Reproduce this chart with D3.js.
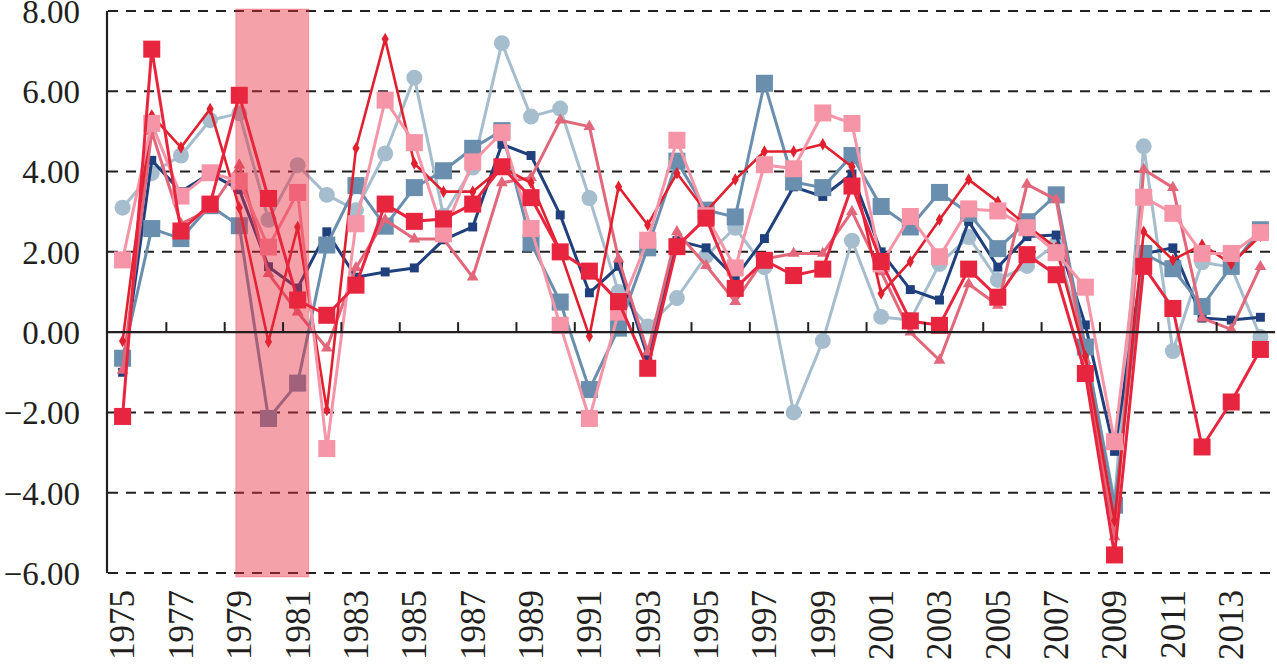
<!DOCTYPE html>
<html>
<head>
<meta charset="utf-8">
<script src="https://cdn.jsdelivr.net/npm/d3@7/dist/d3.min.js"></script>
<style>
  body { margin: 0; background: #fff; }
</style>
</head>
<body>
<svg id="chart" width="1277" height="672"></svg>
<script>
// years on the x axis
let years = d3.range(1975, 2015);
let yTicks = [8, 6, 4, 2, 0, -2, -4, -6];
let recession = [1979, 1981];

let navySmall = [-1.0, 4.28, 3.5, 3.95, 3.55, 1.63, 1.1, 2.5, 1.37, 1.5, 1.6, 2.3, 2.62, 4.68, 4.4, 2.92, 0.98, 1.64, -0.62, 2.28,
                 2.1, 1.35, 2.33, 3.62, 3.38, 3.94, 2.0, 1.06, 0.8, 2.76, 1.62, 2.38, 2.42, 0.18, -2.97, 1.95, 2.1, 0.35, 0.3, 0.37];
let steelSquare = [-0.65, 2.58, 2.33, 3.15, 2.65, -2.15, -1.27, 2.17, 3.65, 2.64, 3.6, 4.02, 4.58, 5.02, 2.22, 0.75, -1.43, 0.1, 2.1, 4.26,
                   3.04, 2.87, 6.2, 3.74, 3.6, 4.4, 3.13, 2.62, 3.48, 2.96, 2.08, 2.75, 3.42, -0.37, -4.31, 1.96, 1.58, 0.64, 1.64, 2.55];
let paleCircle = [3.1, 3.96, 4.4, 5.28, 5.45, 2.8, 4.16, 3.42, 3.04, 4.45, 6.34, 2.9, 4.1, 7.2, 5.37, 5.57, 3.34, 1.0, 0.14, 0.85,
                  1.9, 2.6, 1.62, -2.0, -0.22, 2.28, 0.38, 0.3, 1.7, 2.37, 1.3, 1.65, 2.2, -0.4, -4.2, 4.63, -0.47, 1.74, 1.62, -0.12];
let redDiamond = [-0.22, 5.4, 4.6, 5.56, 3.1, -0.24, 2.62, -1.94, 4.58, 7.3, 4.2, 3.5, 3.5, 4.1, 3.72, 2.0, -0.1, 3.62, 2.67, 3.96,
                  3.0, 3.8, 4.5, 4.5, 4.68, 4.12, 0.96, 1.76, 2.8, 3.8, 3.25, 2.65, 2.1, -0.6, -4.7, 2.5, 1.8, 2.18, 1.7, 2.4];
let roseTriangle = [-0.95, 5.0, 2.7, 3.05, 4.16, 1.46, 0.5, -0.4, 1.6, 2.8, 2.32, 2.32, 1.37, 3.72, 3.85, 5.28, 5.12, 1.82, -0.5, 2.5,
                    1.66, 0.76, 1.82, 1.96, 1.96, 3.0, 1.5, 0.0, -0.7, 1.2, 0.67, 3.68, 3.3, -0.7, -5.1, 4.05, 3.6, 0.35, 0.07, 1.63];
let pinkSquare = [1.8, 5.2, 3.39, 3.97, 3.76, 2.12, 3.48, -2.9, 2.7, 5.78, 4.72, 2.45, 4.24, 4.97, 2.58, 0.17, -2.15, 0.5, 2.29, 4.78,
                  2.9, 1.6, 4.17, 4.07, 5.46, 5.2, 1.7, 2.88, 1.88, 3.07, 3.02, 2.6, 1.98, 1.12, -2.73, 3.36, 2.96, 1.96, 1.96, 2.48];
let redSquare = [-2.1, 7.05, 2.52, 3.19, 5.9, 3.33, 0.8, 0.42, 1.17, 3.19, 2.76, 2.82, 3.19, 4.12, 3.35, 2.0, 1.52, 0.76, -0.9, 2.13,
                 2.84, 1.09, 1.79, 1.41, 1.57, 3.64, 1.76, 0.28, 0.17, 1.57, 0.87, 1.93, 1.43, -1.03, -5.55, 1.64, 0.59, -2.86, -1.74, -0.43];

// drawing order: first is at the bottom
let series = [
    { values: paleCircle,   color: '#a5bdcc', symbol: d3.symbolCircle,   size: 200, width: 3 },
    { values: navySmall,    color: '#1f407c', symbol: d3.symbolSquare,   size: 80,  width: 3 },
    { values: steelSquare,  color: '#6a8eae', symbol: d3.symbolSquare,   size: 290, width: 3 },
    { values: roseTriangle, color: '#e2677a', symbol: d3.symbolTriangle, size: 60,  width: 3 },
    { values: redDiamond,   color: '#e0202f', symbol: d3.symbolDiamond,  size: 45,  width: 2.6 },
    { values: pinkSquare,   color: '#f595a7', symbol: d3.symbolSquare,   size: 290, width: 3 },
    { values: redSquare,    color: '#e8253f', symbol: d3.symbolSquare,   size: 290, width: 3 }
];

let serif = "'Times New Roman', 'Liberation Serif', 'DejaVu Serif', serif";

let svg = d3.select('#chart');
let plotLeft = 108, plotRight = 1275, plotTop = 11, plotBottom = 573;

let x = d3.scaleBand().domain(years).range([plotLeft, plotRight]).padding(0);
let y = d3.scaleLinear().domain([-6, 8]).range([plotBottom, plotTop]);
let cx = function (yr) { return x(yr) + x.bandwidth() / 2; };

// dashed grid
svg.append('g').selectAll('line')
    .data(yTicks.filter(function (d) { return d !== 0; }))
    .enter().append('line')
    .attr('x1', plotLeft).attr('x2', plotRight)
    .attr('y1', function (d) { return y(d); })
    .attr('y2', function (d) { return y(d); })
    .attr('stroke', '#231f20')
    .attr('stroke-width', 2)
    .attr('stroke-dasharray', '10,8');

// series lines + markers
let lineGen = d3.line()
    .x(function (d, i) { return cx(years[i]); })
    .y(function (d) { return y(d); });

series.forEach(function (s) {
    let g = svg.append('g');
    g.append('path')
        .datum(s.values)
        .attr('d', lineGen)
        .attr('fill', 'none')
        .attr('stroke', s.color)
        .attr('stroke-width', s.width)
        .attr('stroke-linejoin', 'round');
    g.selectAll('path.mark')
        .data(s.values)
        .enter().append('path')
        .attr('class', 'mark')
        .attr('d', d3.symbol().type(s.symbol).size(s.size))
        .attr('transform', function (d, i) { return 'translate(' + cx(years[i]) + ',' + y(d) + ')'; })
        .attr('fill', s.color);
});

// shaded period, semi transparent over the lines
let bx0 = x(recession[0]) + x.bandwidth() * 0.38;
let bx1 = x(recession[1]) + x.bandwidth() * 0.88;
svg.append('rect')
    .attr('x', bx0)
    .attr('y', y(8) - 2)
    .attr('width', bx1 - bx0)
    .attr('height', y(-6) - y(8) + 6)
    .attr('fill', '#e8283c')
    .attr('fill-opacity', 0.44)
    .attr('stroke', '#e8283c')
    .attr('stroke-opacity', 0.3);

// zero line with ticks every two years
svg.append('line')
    .attr('x1', plotLeft - 1).attr('x2', plotRight)
    .attr('y1', y(0)).attr('y2', y(0))
    .attr('stroke', '#231f20').attr('stroke-width', 2.2);

svg.append('g').selectAll('line')
    .data(years.filter(function (d) { return d % 2 === 1 && d > 1975; }))
    .enter().append('line')
    .attr('x1', function (d) { return x(d); })
    .attr('x2', function (d) { return x(d); })
    .attr('y1', y(0) - 10).attr('y2', y(0))
    .attr('stroke', '#231f20').attr('stroke-width', 2);

// y axis
svg.append('line')
    .attr('x1', plotLeft - 1).attr('x2', plotLeft - 1)
    .attr('y1', plotTop).attr('y2', plotBottom)
    .attr('stroke', '#231f20').attr('stroke-width', 2.2);

svg.append('g').selectAll('text')
    .data(yTicks)
    .enter().append('text')
    .attr('x', 80)
    .attr('y', function (d) { return y(d); })
    .attr('dy', '0.36em')
    .attr('text-anchor', 'end')
    .style('font-family', serif)
    .style('font-size', '33px')
    .attr('fill', '#231f20')
    .text(function (d) { return d3.format('.2f')(d).replace('-', '\u2212'); });

// x labels, rotated
svg.append('g').selectAll('text')
    .data(years.filter(function (d) { return d % 2 === 1; }))
    .enter().append('text')
    .attr('transform', function (d) { return 'translate(' + cx(d) + ',590) rotate(-90)'; })
    .attr('dy', '0.34em')
    .attr('text-anchor', 'end')
    .style('font-family', serif)
    .style('font-size', '35px')
    .attr('fill', '#231f20')
    .text(function (d) { return d; });
</script>
</body>
</html>
